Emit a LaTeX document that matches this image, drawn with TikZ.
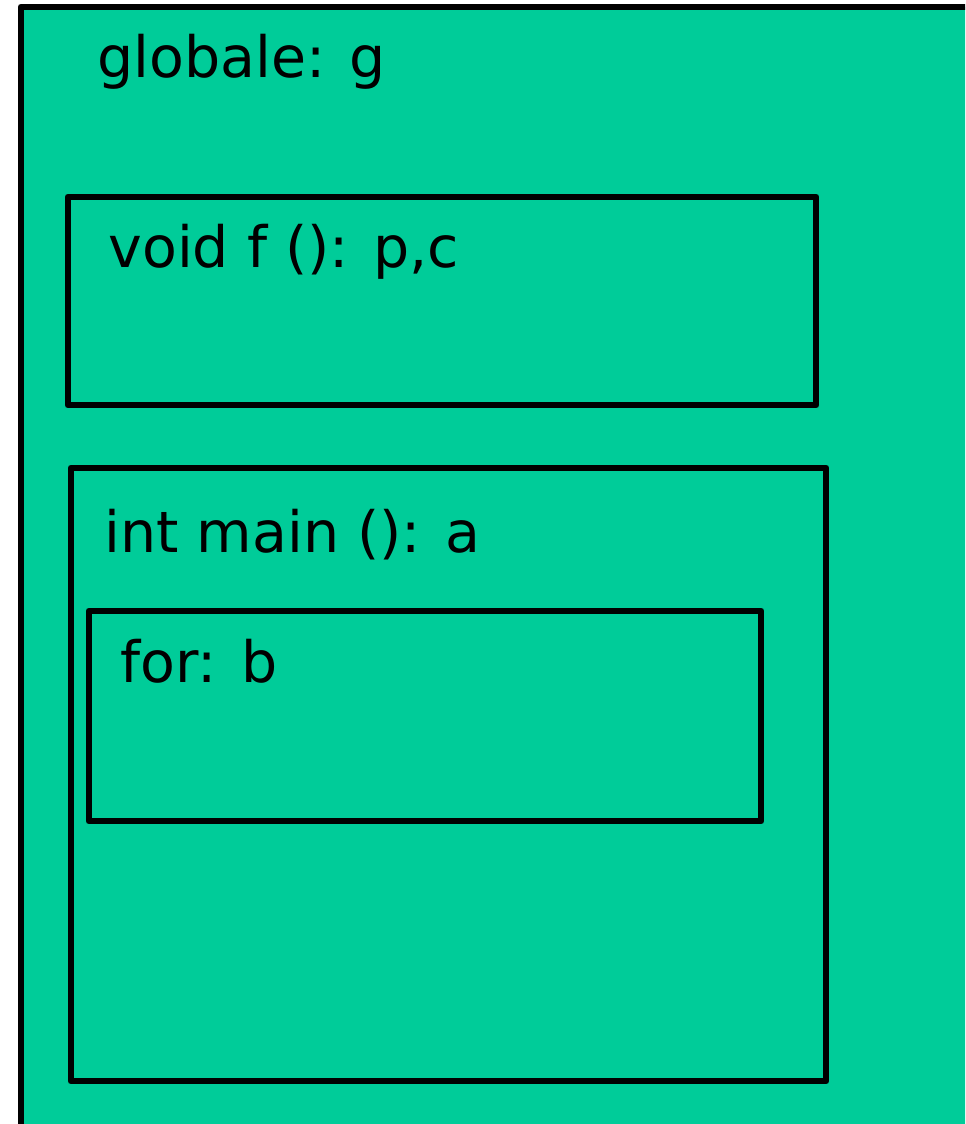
\documentclass[tikz,border=0pt]{standalone}
\usepackage{fontspec}
\setmainfont{DejaVu Sans}
\usetikzlibrary{positioning}
\definecolor{scopegreen}{RGB}{0,204,153}
\tikzset{scopebox/.style={draw, line width=3.4pt, line join=round, inner sep=0pt, outer sep=0pt, anchor=north west},
    scopelabel/.style={anchor=base west, inner sep=0pt, font=\fontsize{28.5}{34}\selectfont}}

\begin{document}
\begin{tikzpicture}[x=0.5pt, y=-0.5pt]
    \useasboundingbox (0,0) rectangle (965,1124);
    \clip (0,0) rectangle (965,1124);
    
    \node[scopebox, fill=scopegreen, minimum width=520pt, minimum height=600pt] (global) at (21,7) {};
    \node[scopelabel] (globaltext) at ([xshift=38pt, yshift=-35pt] global.north west) {globale: g};
    
    \node[scopebox, minimum width=374pt, minimum height=104pt] (fun) at (68,197) {};
    \node[scopelabel] (funtext) at ([xshift=20pt, yshift=-35pt] fun.north west) {void f (): p,c};
    
    \node[scopebox, minimum width=377.5pt, minimum height=306.5pt] (main) at (71,468) {};
    \node[scopelabel] (maintext) at ([xshift=16.5pt, yshift=-42pt] main.north west) {int main (): a};
    
    \node[scopebox, minimum width=336pt, minimum height=105pt] (loop) at (89,611) {};
    \node[scopelabel] (looptext) at ([xshift=15.5pt, yshift=-35.5pt] loop.north west) {for: b};
    
\end{tikzpicture}
\end{document}
